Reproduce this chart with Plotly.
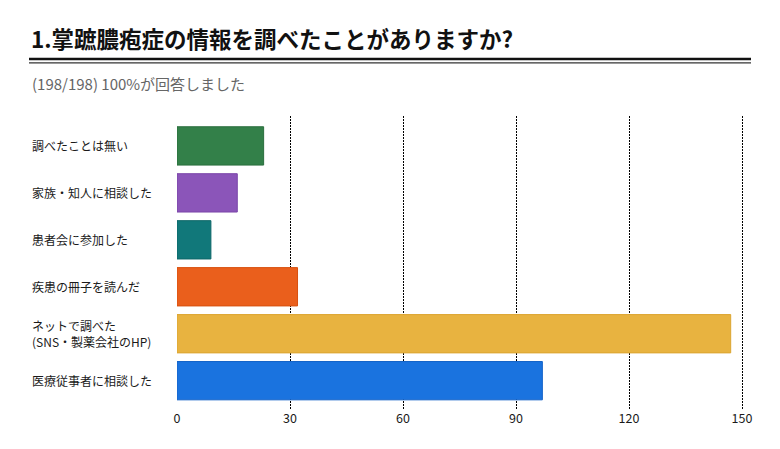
import plotly.graph_objects as go

title = "1.掌蹠膿疱症の情報を調べたことがありますか?"
subtitle = "(198/198) 100%が回答しました"
categories = [
    "調べたことは無い",
    "家族・知人に相談した",
    "患者会に参加した",
    "疾患の冊子を読んだ",
    "ネットで調べた<br>(SNS・製薬会社のHP)",
    "医療従事者に相談した",
]
values = [23, 16, 9, 32, 147, 97]
colors = ["#338049", "#8b55b9", "#11787a", "#ea5f1c", "#e8b340", "#1a73df"]
borders = ["#2a6e3d", "#7a45a8", "#0d6668", "#d8500f", "#dca530", "#1463c8"]
tick_vals = [0, 30, 60, 90, 120, 150]

FONT = "Noto Sans CJK JP"
W, H = 780, 449
L, R, T, B = 177, 33, 116, 40
pw, ph = W - L - R, H - T - B
XMAX = 150 * pw / 565.0

def px(x):
    return (x - L) / pw

def py(y):
    return (H - B - y) / ph

idx = list(range(len(categories)))

fig = go.Figure()
fig.add_trace(go.Bar(
    x=values, y=idx, orientation="h",
    marker=dict(color=colors, line=dict(color=borders, width=1)),
    hoverinfo="skip",
))

annotations = [
    dict(text=f"<b>{title}</b>", xref="paper", yref="paper", x=px(29), y=py(38),
         xanchor="left", yanchor="middle", showarrow=False,
         font=dict(family=FONT, size=22.5, color="#111111")),
    dict(text=subtitle, xref="paper", yref="paper", x=px(30), y=py(84),
         xanchor="left", yanchor="middle", showarrow=False,
         font=dict(family=FONT, size=15, color="#666666")),
]
for i, c in enumerate(categories):
    annotations.append(dict(text=c, xref="paper", yref="y", x=px(30), y=i,
                            xanchor="left", yanchor="middle", align="left",
                            showarrow=False,
                            font=dict(family=FONT, size=12, color="#1a1a1a")))

shapes = [
    dict(type="line", xref="paper", yref="paper", x0=px(29), x1=px(751),
         y0=py(59), y1=py(59), line=dict(color="#111111", width=2.5)),
    dict(type="line", xref="paper", yref="paper", x0=px(29), x1=px(751),
         y0=py(62.8), y1=py(62.8), line=dict(color="#333333", width=1.2)),
]

fig.update_layout(
    width=W, height=H,
    margin=dict(l=L, r=R, t=T, b=B, pad=0),
    paper_bgcolor="white", plot_bgcolor="white",
    showlegend=False,
    bargap=0.184,
    annotations=annotations,
    shapes=shapes,
    font=dict(family=FONT, size=12, color="#222222"),
    xaxis=dict(range=[0, XMAX], tickvals=tick_vals, showgrid=True,
               gridcolor="#000000", griddash="1.5px,1.5px", gridwidth=1,
               zeroline=False, showline=False, ticks="",
               tickfont=dict(family=FONT, size=12.5, color="#1a1a1a"),
               fixedrange=True),
    yaxis=dict(range=[5.603, -0.637], showticklabels=False, showgrid=False,
               zeroline=False, showline=False, ticks="", fixedrange=True),
)

fig.write_html("out.html", config={"displayModeBar": False},
               post_script="document.body.style.margin='0';document.body.style.padding='0';")
